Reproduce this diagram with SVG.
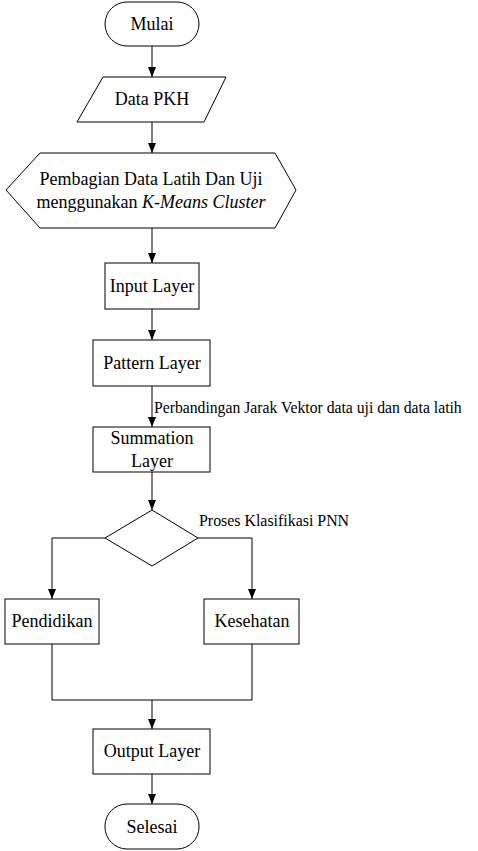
<svg xmlns="http://www.w3.org/2000/svg" width="478" height="851" viewBox="0 0 478 851">
<defs>
<marker id="a" markerUnits="userSpaceOnUse" markerWidth="10" markerHeight="10" viewBox="0 0 10 10" refX="10" refY="5" orient="auto">
<path d="M0,1 L10,5 L0,9 Z" fill="#000"/>
</marker>
</defs>
<rect width="478" height="851" fill="#fff"/>
<g id="connectors" fill="none" stroke="#000" stroke-width="1">
<line x1="152" y1="46" x2="152" y2="77" marker-end="url(#a)"/>
<line x1="152" y1="122" x2="152" y2="153" marker-end="url(#a)"/>
<line x1="152" y1="228" x2="152" y2="263" marker-end="url(#a)"/>
<line x1="152" y1="309" x2="152" y2="340" marker-end="url(#a)"/>
<line x1="152" y1="386" x2="152" y2="427" marker-end="url(#a)"/>
<line x1="152" y1="472" x2="152" y2="510" marker-end="url(#a)"/>
<polyline points="105,538 52,538 52,599" marker-end="url(#a)"/>
<polyline points="198,538 252,538 252,599" marker-end="url(#a)"/>
<polyline points="52,644 52,700 252,700 252,644"/>
<line x1="152" y1="700" x2="152" y2="729" marker-end="url(#a)"/>
<line x1="152" y1="774" x2="152" y2="804" marker-end="url(#a)"/>
</g>
<g id="labels" fill="#000">
<text x="154" y="413" font-family="Times New Roman" font-size="15.7">Perbandingan Jarak Vektor data uji dan data latih</text>
<text x="199" y="526" font-family="Times New Roman" font-size="15.9">Proses Klasifikasi PNN</text>
</g>
<g id="mulai">
<rect x="105" y="2" width="94" height="44" rx="22" ry="22" fill="#fff" stroke="#000"/>
<text x="152" y="30" font-family="Times New Roman" font-size="18" text-anchor="middle">Mulai</text>
</g>
<g id="data-pkh">
<polygon points="103,77 226,77 204,122 77,122" fill="#fff" stroke="#000"/>
<text x="152" y="105" font-family="Times New Roman" font-size="18" text-anchor="middle">Data PKH</text>
</g>
<g id="pembagian">
<polygon points="40,153 275,153 296,190 275,228 40,228 6,190" fill="#fff" stroke="#000"/>
<text x="151" y="185" font-family="Times New Roman" font-size="18" text-anchor="middle">Pembagian Data Latih Dan Uji</text>
<text x="151" y="208" font-family="Times New Roman" font-size="18" text-anchor="middle">menggunakan <tspan font-style="italic">K-Means Cluster</tspan></text>
</g>
<g id="input-layer">
<rect x="105" y="263" width="94" height="46" fill="#fff" stroke="#000"/>
<text x="152" y="292" font-family="Times New Roman" font-size="18" text-anchor="middle">Input Layer</text>
</g>
<g id="pattern-layer">
<rect x="93" y="340" width="117" height="46" fill="#fff" stroke="#000"/>
<text x="152" y="369" font-family="Times New Roman" font-size="18" text-anchor="middle">Pattern Layer</text>
</g>
<g id="summation-layer">
<rect x="93" y="427" width="117" height="45" fill="#fff" stroke="#000"/>
<text x="152" y="444" font-family="Times New Roman" font-size="18" text-anchor="middle">Summation</text>
<text x="152" y="467" font-family="Times New Roman" font-size="18" text-anchor="middle">Layer</text>
</g>
<g id="decision">
<polygon points="152,510 198,538 152,566 105,538" fill="#fff" stroke="#000"/>
</g>
<g id="pendidikan">
<rect x="5" y="599" width="94" height="45" fill="#fff" stroke="#000"/>
<text x="52" y="627" font-family="Times New Roman" font-size="18" text-anchor="middle">Pendidikan</text>
</g>
<g id="kesehatan">
<rect x="204" y="599" width="95" height="45" fill="#fff" stroke="#000"/>
<text x="252" y="627" font-family="Times New Roman" font-size="18" text-anchor="middle">Kesehatan</text>
</g>
<g id="output-layer">
<rect x="93" y="729" width="117" height="45" fill="#fff" stroke="#000"/>
<text x="152" y="757" font-family="Times New Roman" font-size="18" text-anchor="middle">Output Layer</text>
</g>
<g id="selesai">
<rect x="105" y="804" width="94" height="45" rx="22" ry="22" fill="#fff" stroke="#000"/>
<text x="152" y="833" font-family="Times New Roman" font-size="18" text-anchor="middle">Selesai</text>
</g>
</svg>
